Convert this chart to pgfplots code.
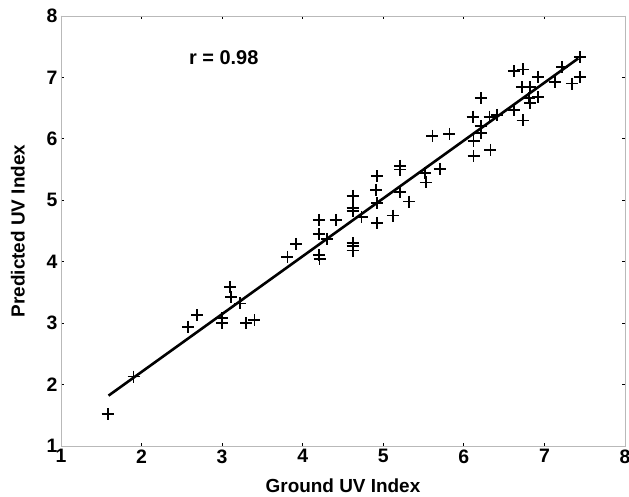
\documentclass[border=0pt]{standalone}
\usepackage{pgfplots}
\pgfplotsset{compat=1.18}
\usepackage{fontspec}
\setmainfont{Liberation Sans}
\begin{document}
\begin{tikzpicture}
\begin{axis}[
  scale only axis, width=564bp, height=430bp,
  xmin=1, xmax=8, ymin=1, ymax=8,
  xtick={1,...,8}, ytick={1,...,8},
  axis line style={gray!55, line width=0.8bp},
  tick style={black, line width=0.8bp},
  major tick length=3bp,
  tick align=inside,
  /pgf/number format/assume math mode=true,
  tick label style={font=\fontsize{19.5}{22}\selectfont\bfseries},
  label style={font=\fontsize{19}{22}\selectfont\bfseries},
  xlabel={Ground UV Index},
  ylabel={Predicted UV Index},
  xlabel style={yshift=-9bp},
  ylabel style={yshift=15bp},
  clip=false,
]
\addplot[black, line width=2.6bp, no marks] coordinates {(1.59,1.82) (7.42,7.31)};
\addplot[only marks, mark=+, mark size=6bp, mark options={line width=1.7bp, black}] table {
x y
1.58 1.52
1.90 2.13
2.58 2.94
2.69 3.13
3.00 3.08
3.00 3.00
3.10 3.59
3.11 3.42
3.22 3.32
3.30 3.00
3.40 3.05
3.81 4.08
3.92 4.29
4.20 4.68
4.20 4.45
4.30 4.37
4.20 4.11
4.21 4.04
4.41 4.68
4.62 5.07
4.62 4.87
4.62 4.82
4.73 4.73
4.62 4.30
4.62 4.25
4.62 4.18
4.92 5.39
4.91 5.17
4.92 4.95
4.92 4.63
5.12 4.75
5.21 5.56
5.21 5.50
5.21 5.14
5.32 4.98
5.52 5.44
5.53 5.29
5.70 5.51
5.61 6.05
5.82 6.08
6.21 6.66
6.11 6.36
6.21 6.21
6.21 6.10
6.12 5.96
6.12 5.72
6.33 5.82
6.32 6.36
6.41 6.39
6.62 7.10
6.73 7.13
6.62 6.47
6.73 6.30
6.72 6.84
6.82 6.84
6.81 6.66
6.82 6.58
6.92 6.68
6.92 7.01
7.13 6.92
7.22 7.17
7.34 6.90
7.44 7.01
7.44 7.33
};
\node[font=\fontsize{20}{24}\selectfont\bfseries] at (axis cs:3.02,7.32) {r = 0.98};
\end{axis}
\pgfresetboundingbox
\path ([xshift=-61bp,yshift=-51bp]current axis.south west) rectangle ([xshift=4bp,yshift=16bp]current axis.north east);
\end{tikzpicture}
\end{document}
